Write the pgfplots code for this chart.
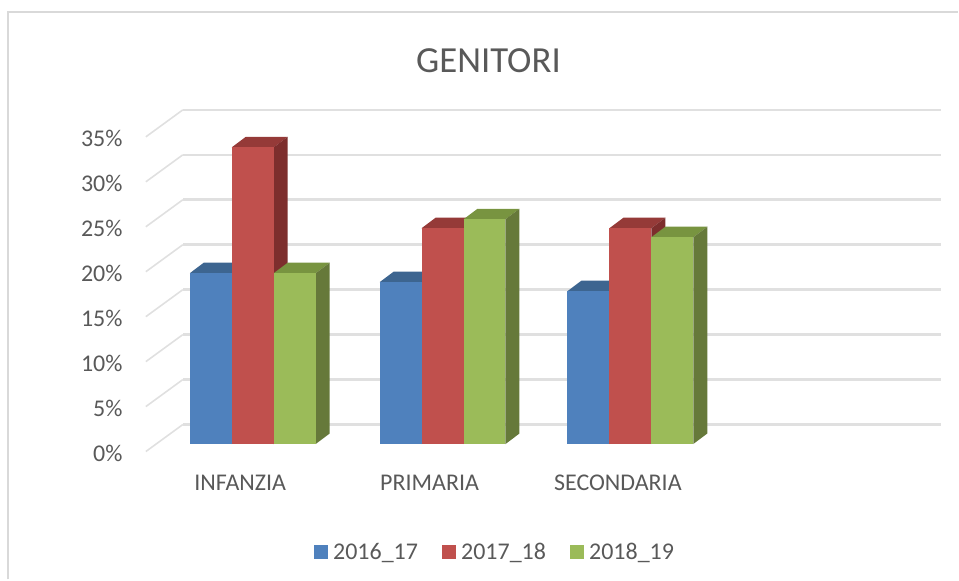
\documentclass[border=0pt]{standalone}
\usepackage{pgfplots}
\pgfplotsset{compat=1.18}
\usepackage{fontspec}
\setmainfont{Carlito}
\definecolor{frame}{HTML}{D9D9D9}
\definecolor{txt}{HTML}{595959}
\definecolor{grid}{HTML}{E0E0E0}
\definecolor{bF}{HTML}{4F81BD}\definecolor{bT}{HTML}{3D6590}\definecolor{bS}{HTML}{2F4E73}
\definecolor{rF}{HTML}{C0504D}\definecolor{rT}{HTML}{953A38}\definecolor{rS}{HTML}{7D2E2D}
\definecolor{gF}{HTML}{9BBB59}\definecolor{gT}{HTML}{789440}\definecolor{gS}{HTML}{66793A}
\newcommand{\fs}{\fontsize{18}{21}\selectfont}
\pgfplotsset{
  gl/.style={draw=grid,line width=2pt,forget plot,sharp plot,no marks},
  dg/.style={draw=grid,line width=1.2pt,forget plot,sharp plot,no marks},
  face/.style={draw=none,fill=#1,forget plot,no marks,sharp plot},
  front/.style={ybar,bar width=42,draw=none,fill=#1,forget plot,no marks},
}
\begin{document}
\begin{tikzpicture}
\begin{axis}[
  scale only axis,width=597pt,height=256.5pt,
  xmin=146,xmax=942,ymin=-0.833,ymax=37.167,
  clip=false,
  axis line style={draw=none},
  major tick length=0pt,tick style={draw=none},
  xtick={240.5,430,618.5},
  xticklabels={INFANZIA,PRIMARIA,SECONDARIA},
  xticklabel style={yshift=-14pt,font=\fs,text=txt},
  ytick={-0.833,4.167,9.167,14.167,19.167,24.167,29.167,34.167},
  yticklabels={0\%,5\%,10\%,15\%,20\%,25\%,30\%,35\%},
  yticklabel style={xshift=-14pt,yshift=-1.5pt,font=\fs,text=txt},
  title=GENITORI,
  title style={at={(0.4309,1.122)},anchor=center,font=\fontsize{27.6}{30}\selectfont,text=txt},
  legend columns=3,
  legend style={at={(0.4395,-0.295)},anchor=center,draw=none,fill=none,font=\fs,text=txt,
    /tikz/every even column/.style={column sep=16.4pt}},
  legend image code/.code={\fill[draw=none,#1] (0pt,-5.2pt) rectangle (10.5pt,5.3pt);\path (12pt,0pt);},
]
\path (axis cs:0,49.39) rectangle (axis cs:959,-15.06);
\draw[frame,line width=1.5pt] (axis cs:8,-15.06) -- (axis cs:8,48) -- (axis cs:959,48);
\addlegendimage{fill=bF}\addlegendentry{\makebox[63.5pt][l]{2016\_17}}
\addlegendimage{fill=rF}\addlegendentry{\makebox[63.5pt][l]{2017\_18}}
\addlegendimage{fill=gF}\addlegendentry{\makebox[63.5pt][l]{2018\_19}}
% back wall and floor grid
\addplot[gl] coordinates {(183,2.167)(942,2.167)};
\addplot[gl] coordinates {(183,7.167)(942,7.167)};
\addplot[gl] coordinates {(183,12.167)(942,12.167)};
\addplot[gl] coordinates {(183,17.167)(942,17.167)};
\addplot[gl] coordinates {(183,22.167)(942,22.167)};
\addplot[gl] coordinates {(183,27.167)(942,27.167)};
\addplot[gl] coordinates {(183,32.167)(942,32.167)};
\addplot[gl] coordinates {(183,37.167)(942,37.167)};
\addplot[dg] coordinates {(146,-0.833)(183,2.167)};
\addplot[dg] coordinates {(146,4.167)(183,7.167)};
\addplot[dg] coordinates {(146,9.167)(183,12.167)};
\addplot[dg] coordinates {(146,14.167)(183,17.167)};
\addplot[dg] coordinates {(146,19.167)(183,22.167)};
\addplot[dg] coordinates {(146,24.167)(183,27.167)};
\addplot[dg] coordinates {(146,29.167)(183,32.167)};
\addplot[dg] coordinates {(146,34.167)(183,37.167)};
% INFANZIA
\addplot[face=bT] coordinates {(190,19)(204,20.17)(246,20.17)(232,19)} -- cycle;
\addplot[face=bS] coordinates {(232,0)(246,1.17)(246,20.17)(232,19)} -- cycle;
\addplot[front=bF] coordinates {(211,19)};
\addplot[face=rT] coordinates {(232,33)(246,34.17)(288,34.17)(274,33)} -- cycle;
\addplot[face=rS] coordinates {(274,0)(288,1.17)(288,34.17)(274,33)} -- cycle;
\addplot[front=rF] coordinates {(253,33)};
\addplot[face=gT] coordinates {(274,19)(288,20.17)(330,20.17)(316,19)} -- cycle;
\addplot[face=gS] coordinates {(316,0)(330,1.17)(330,20.17)(316,19)} -- cycle;
\addplot[front=gF] coordinates {(295,19)};
% PRIMARIA
\addplot[face=bT] coordinates {(380,18)(394,19.17)(436,19.17)(422,18)} -- cycle;
\addplot[face=bS] coordinates {(422,0)(436,1.17)(436,19.17)(422,18)} -- cycle;
\addplot[front=bF] coordinates {(401,18)};
\addplot[face=rT] coordinates {(422,24)(436,25.17)(478,25.17)(464,24)} -- cycle;
\addplot[face=rS] coordinates {(464,0)(478,1.17)(478,25.17)(464,24)} -- cycle;
\addplot[front=rF] coordinates {(443,24)};
\addplot[face=gT] coordinates {(464,25)(478,26.17)(520,26.17)(506,25)} -- cycle;
\addplot[face=gS] coordinates {(506,0)(520,1.17)(520,26.17)(506,25)} -- cycle;
\addplot[front=gF] coordinates {(485,25)};
% SECONDARIA
\addplot[face=bT] coordinates {(568,17)(582,18.17)(624,18.17)(610,17)} -- cycle;
\addplot[face=bS] coordinates {(610,0)(624,1.17)(624,18.17)(610,17)} -- cycle;
\addplot[front=bF] coordinates {(589,17)};
\addplot[face=rT] coordinates {(610,24)(624,25.17)(666,25.17)(652,24)} -- cycle;
\addplot[face=rS] coordinates {(652,0)(666,1.17)(666,25.17)(652,24)} -- cycle;
\addplot[front=rF] coordinates {(631,24)};
\addplot[face=gT] coordinates {(652,23)(666,24.17)(708,24.17)(694,23)} -- cycle;
\addplot[face=gS] coordinates {(694,0)(708,1.17)(708,24.17)(694,23)} -- cycle;
\addplot[front=gF] coordinates {(673,23)};
\end{axis}
\end{tikzpicture}
\end{document}
